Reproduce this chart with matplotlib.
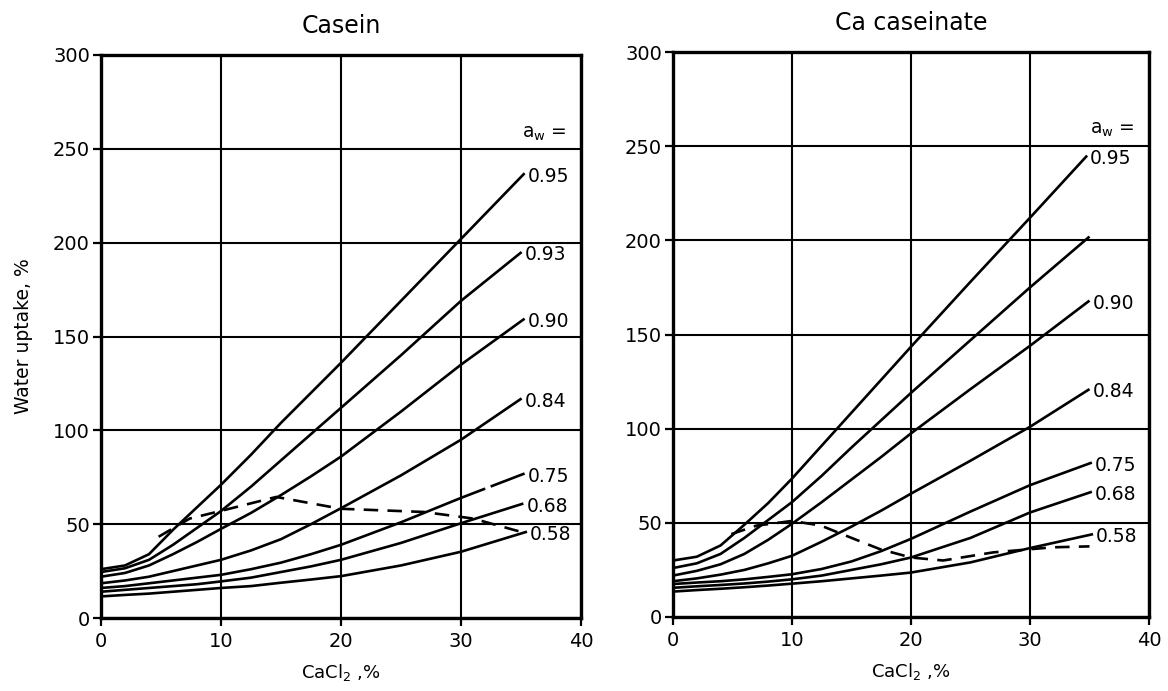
import matplotlib
matplotlib.use("Agg")
import matplotlib.pyplot as plt

plt.rcParams['font.family'] = ['DejaVu Sans']

# ---- Casein: water uptake (%) vs CaCl2 (%) for each water activity ----
grid_x = [0, 2, 4, 6, 8, 10, 12.5, 15, 17.5, 20, 25, 30]

casein_aw = ["0.95", "0.93", "0.90", "0.84", "0.75", "0.68", "0.58"]
casein_end_x = [35.3, 35.05, 35.3, 35.05, 35.3, 35.2, 35.5]
casein_y = [
    [26, 28, 34, 47, 59, 71, 87, 104, 120, 136, 169, 202, 237],
    [24.5, 26.5, 31, 39, 48, 57, 70, 84, 98, 112, 140, 169, 195],
    [22, 24, 28, 34, 40.5, 47.5, 56, 65.5, 75.5, 86, 110, 135, 159.5],
    [18.5, 20, 22, 25, 28, 31, 36, 42, 50, 58.5, 76, 95, 117],
    [16, 17, 18.5, 20, 21.5, 23, 26, 29.5, 34, 39, 51, 64, 77],
    [14, 15, 16, 17, 18, 19.5, 21.5, 24.5, 27.5, 31, 40, 50.5, 61],
    [11.5, 12.3, 13, 14, 15, 16, 17, 18.8, 20.5, 22.3, 28, 35.3, 46],
]
casein_labelled = ["0.95", "0.93", "0.90", "0.84", "0.75", "0.68", "0.58"]
# the 0.75 curve is broken once just before its end
casein_tail_from = {"0.75": 32.0}

casein_dash_x = [4.8, 7.4, 10.2, 14.6, 20, 26.9, 31, 35.5]
casein_dash_y = [43.3, 53, 57.4, 64.5, 58.2, 56.5, 53, 45]

# ---- Ca caseinate ----
cacas_aw = ["0.95", "0.93", "0.90", "0.84", "0.75", "0.68", "0.58"]
cacas_end_x = [34.8, 35.0, 35.0, 35.0, 35.2, 35.2, 35.3]
cacas_y = [
    [30, 32, 38, 49, 60.5, 73.5, 91, 108.5, 126, 143.5, 178, 212, 245],
    [26, 28.5, 33.5, 42, 51.5, 61, 75, 90, 104.5, 119, 147, 175, 202],
    [22, 24.5, 28, 33.5, 41, 49.5, 61, 73, 85, 97.5, 121, 144, 168],
    [19, 20.5, 22.5, 25, 28.5, 32.5, 40, 48, 56.5, 65.5, 83, 101, 121],
    [17.5, 18.3, 19, 20, 21.3, 22.7, 25.5, 29.5, 35, 41.5, 56, 70, 82],
    [15.5, 16.3, 17, 17.8, 18.8, 20, 22, 25, 28, 31.6, 42, 55.5, 66.5],
    [13.5, 14.3, 15, 15.8, 16.7, 17.7, 19, 20.5, 22, 23.6, 29, 36.6, 44],
]
cacas_labelled = ["0.95", "0.90", "0.84", "0.75", "0.68", "0.58"]
cacas_tail_from = {}

cacas_dash_x = [4.9, 7, 10, 12.4, 15, 17.4, 20, 22.7, 26.9, 31.9, 35]
cacas_dash_y = [44, 48.5, 51, 48.6, 42, 36, 31.6, 30, 34.3, 37, 37.5]

x_ticks = [0, 10, 20, 30, 40]
y_ticks = [0, 50, 100, 150, 200, 250, 300]

fig = plt.figure(figsize=(11.68, 6.91), dpi=100)
fig.patch.set_facecolor("white")

LW_CURVE = 1.9
LW_GRID = 1.5


def draw_panel(ax, title, aws, end_x, ys, labelled, tail_from, dash_x, dash_y,
               aw_y):
    ax.set_xlim(0, 40)
    ax.set_ylim(0, 300)
    ax.set_xticks(x_ticks)
    ax.set_yticks(y_ticks)
    ax.grid(True, color="black", linewidth=LW_GRID)
    ax.set_axisbelow(True)
    for s in ax.spines.values():
        s.set_linewidth(2.4)
        s.set_color("black")
    ax.tick_params(axis="both", direction="out", length=6, width=1.6,
                   labelsize=14, colors="black")
    ax.tick_params(axis="x", pad=4)
    ax.tick_params(axis="y", pad=2)

    for aw, xe, yv in zip(aws, end_x, ys):
        xv = grid_x + [xe]
        if aw in tail_from:
            xs = tail_from[aw]
            xa = [x for x in xv if x <= xs]
            ya = yv[:len(xa)]
            # start of the broken stroke, on the straight segment
            i = len(xa)
            t = (xs - xv[i - 1]) / (xv[i] - xv[i - 1])
            yb = yv[i - 1] + t * (yv[i] - yv[i - 1])
            ax.plot(xa + [xs], ya + [yb], color="black", lw=LW_CURVE,
                    solid_capstyle="butt")
            ax.plot([xs] + xv[i:], [yb] + yv[i:], color="black", lw=LW_CURVE,
                    linestyle=(0, (0.1, 2.2, 40, 0.1)))
        else:
            ax.plot(xv, yv, color="black", lw=LW_CURVE, solid_capstyle="butt")
        if aw in labelled:
            ax.text(xe + 0.25, yv[-1] - 1.5, aw, fontsize=13.5,
                    ha="left", va="center", color="black")

    ax.plot(dash_x, dash_y, color="black", lw=LW_CURVE,
            linestyle=(0, (5.5, 3.5)))

    ax.text(38.8, aw_y, r"$\mathregular{a_w}$ =", fontsize=13.5,
            ha="right", va="center", color="black")
    ax.set_xlabel(r"CaCl$_\mathregular{2}$ ,%", fontsize=13, labelpad=8)
    ax.set_title(title, fontsize=17, pad=16)


ax1 = fig.add_axes([101 / 1168, 73 / 691, 480 / 1168, 563 / 691])
ax2 = fig.add_axes([673 / 1168, 74 / 691, 476 / 1168, 565 / 691])

draw_panel(ax1, "Casein", casein_aw, casein_end_x, casein_y, casein_labelled,
           casein_tail_from, casein_dash_x, casein_dash_y, 258)
draw_panel(ax2, "Ca caseinate", cacas_aw, cacas_end_x, cacas_y, cacas_labelled,
           cacas_tail_from, cacas_dash_x, cacas_dash_y, 259)

ax1.set_ylabel("Water uptake, %", fontsize=13.5, labelpad=14)

fig.savefig("out.png", dpi=100, facecolor="white")
